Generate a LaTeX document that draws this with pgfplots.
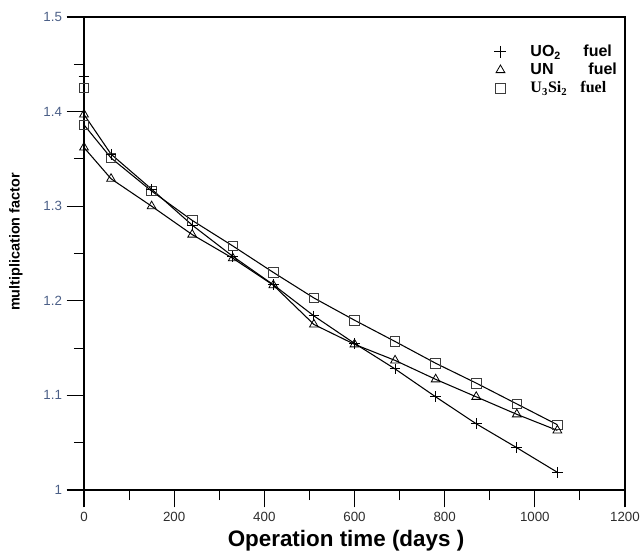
\documentclass[border=0pt]{standalone}
\usepackage{pgfplots}
\pgfplotsset{compat=1.18}
\usepackage{fontspec}
\setmainfont{Liberation Sans}
\newfontfamily\timesfont{Liberation Serif}
\definecolor{ylab}{RGB}{75,95,135}
\definecolor{xlab}{RGB}{45,45,45}
\definecolor{markgray}{RGB}{60,60,60}

\begin{document}
\begin{tikzpicture}
\useasboundingbox (-63pt,-45.75pt) rectangle (417pt,367.5pt);
\begin{axis}[
    scale only axis,
    width=405.75pt, height=354.75pt,
    xmin=0, xmax=1200, ymin=1, ymax=1.5,
    xtick={0,200,...,1200},
    minor x tick num=1,
    ytick={1,1.1,1.2,1.3,1.4,1.5},
    minor y tick num=1,
    tick align=outside,
    xtick pos=bottom, ytick pos=left,
    major tick length=13pt,
    minor tick length=7.5pt,
    every tick/.style={black, line width=0.8pt},
    axis line style={line width=0.8pt},
    /pgf/number format/assume math mode=true,
    /pgf/number format/1000 sep={},
    xticklabel style={font=\fontsize{10}{12}\selectfont, text=xlab},
    yticklabel style={font=\fontsize{10}{12}\selectfont, text=ylab},
    xlabel={\bfseries Operation time (days )},
    ylabel={\bfseries multiplication factor},
    xlabel style={font=\fontsize{16.8}{19}\selectfont, at={(axis description cs:0.4843,-0.108)}, anchor=center},
    ylabel style={font=\fontsize{10.8}{13}\selectfont, at={(axis description cs:-0.1257,0.524)}, anchor=center},
    legend style={draw=none, fill=none, at={(axis cs:901,1.4756)}, anchor=north west,
        font=\fontsize{12}{13.5}\selectfont\bfseries, row sep=0.5pt,
        nodes={inner sep=1.5pt}},
    legend cell align=left,
]
% U3Si2 fuel
\addplot[black, line width=0.8pt, mark=square, mark size=3.6pt,
    mark options={markgray, line width=0.6pt}, forget plot] coordinates {
(0,1.386) (60,1.351) (150,1.316) (240,1.285) (330,1.258) (420,1.230)
(510,1.203) (600,1.1795) (690,1.157) (780,1.134) (870,1.113) (960,1.091) (1050,1.069)};
% UN fuel
\addplot[black, line width=0.8pt, mark=triangle, mark size=3.8pt,
    mark options={black, line width=0.6pt}, forget plot] coordinates {
(0,1.362) (60,1.329) (150,1.300) (240,1.270) (330,1.245) (420,1.2165)
(510,1.175) (600,1.154) (690,1.137) (780,1.117) (870,1.0985) (960,1.080) (1050,1.063)};
% UO2 fuel
\addplot[black, line width=0.8pt, mark=+, mark size=4pt, mark indices={2,...,13},
    mark options={black, line width=0.7pt}, forget plot] coordinates {
(0,1.397) (60,1.355) (150,1.318) (240,1.280) (330,1.247) (420,1.217)
(510,1.184) (600,1.155) (690,1.128) (780,1.0985) (870,1.070) (960,1.0447) (1050,1.0187)};
% single points at t = 0
\addplot[only marks, mark=+, mark size=4pt, mark options={black, line width=0.7pt}, forget plot]
    coordinates {(0,1.437)};
\addplot[only marks, mark=square, mark size=3.6pt, mark options={markgray, line width=0.6pt}, forget plot]
    coordinates {(0,1.425)};
\addplot[only marks, mark=triangle, mark size=3.8pt, mark options={black, line width=0.6pt}, forget plot]
    coordinates {(0,1.397)};
% legend
\addlegendimage{only marks, mark=+, mark size=4.5pt, mark options={black, line width=0.6pt}}
\addlegendentry{\hspace{16.5pt}\makebox[39.75pt][l]{UO\textsubscript{2}}fuel}
\addlegendimage{only marks, mark=triangle, mark size=3.8pt, mark options={black, line width=0.6pt}}
\addlegendentry{\hspace{16.5pt}\makebox[43.5pt][l]{UN}fuel}
\addlegendimage{only marks, mark=square, mark size=3.6pt, mark options={markgray, line width=0.6pt}}
\addlegendentry{\hspace{16.5pt}\timesfont\makebox[37.5pt][l]{U\textsubscript{3}Si\textsubscript{2}}fuel}
\end{axis}
\end{tikzpicture}
\end{document}
